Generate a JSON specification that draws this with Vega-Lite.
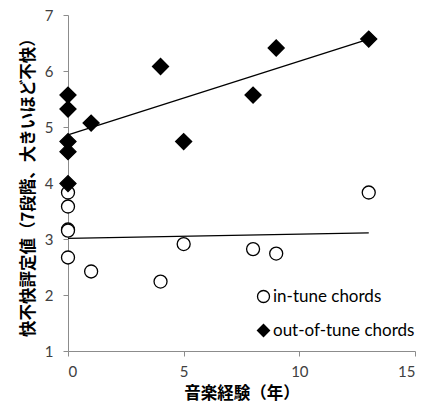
{
  "$schema": "https://vega.github.io/schema/vega-lite/v6.json",
  "autosize": "none",
  "width": 347,
  "height": 336,
  "padding": {"left": 68, "top": 15, "right": 12, "bottom": 63},
  "background": "white",
  "config": {
    "view": {"stroke": null},
    "axis": {
      "grid": false,
      "domainColor": "#8c8c8c",
      "tickColor": "#8c8c8c",
      "tickSize": 5,
      "labelFont": "Lato",
      "labelFontSize": 15,
      "labelColor": "#404040",
      "titleFont": "Noto Sans CJK JP",
      "titleFontWeight": "bold",
      "titleFontSize": 16.5,
      "titleColor": "#000000"
    },
    "legend": {
      "labelFont": "Lato",
      "labelFontSize": 17,
      "labelColor": "#000000",
      "symbolSize": 144,
      "symbolStrokeWidth": 1.3
    }
  },
  "datasets": {
    "points": [
      {"experience": 0, "rating": 3.83, "series": "in-tune chords"},
      {"experience": 0, "rating": 3.58, "series": "in-tune chords"},
      {"experience": 0, "rating": 3.17, "series": "in-tune chords"},
      {"experience": 0, "rating": 3.15, "series": "in-tune chords"},
      {"experience": 0, "rating": 2.67, "series": "in-tune chords"},
      {"experience": 1, "rating": 2.42, "series": "in-tune chords"},
      {"experience": 4, "rating": 2.24, "series": "in-tune chords"},
      {"experience": 5, "rating": 2.91, "series": "in-tune chords"},
      {"experience": 8, "rating": 2.82, "series": "in-tune chords"},
      {"experience": 9, "rating": 2.74, "series": "in-tune chords"},
      {"experience": 13, "rating": 3.83, "series": "in-tune chords"},
      {"experience": 0, "rating": 5.57, "series": "out-of-tune chords"},
      {"experience": 0, "rating": 5.32, "series": "out-of-tune chords"},
      {"experience": 0, "rating": 4.74, "series": "out-of-tune chords"},
      {"experience": 0, "rating": 4.56, "series": "out-of-tune chords"},
      {"experience": 0, "rating": 3.99, "series": "out-of-tune chords"},
      {"experience": 1, "rating": 5.07, "series": "out-of-tune chords"},
      {"experience": 4, "rating": 6.08, "series": "out-of-tune chords"},
      {"experience": 5, "rating": 4.74, "series": "out-of-tune chords"},
      {"experience": 8, "rating": 5.57, "series": "out-of-tune chords"},
      {"experience": 9, "rating": 6.41, "series": "out-of-tune chords"},
      {"experience": 13, "rating": 6.57, "series": "out-of-tune chords"}
    ],
    "trend": [
      {"experience": 0, "rating": 3.01, "series": "in-tune chords"},
      {"experience": 13, "rating": 3.11, "series": "in-tune chords"},
      {"experience": 0, "rating": 4.86, "series": "out-of-tune chords"},
      {"experience": 13, "rating": 6.57, "series": "out-of-tune chords"}
    ]
  },
  "layer": [
    {
      "data": {"name": "trend"},
      "mark": {"type": "line", "color": "black", "strokeWidth": 1.3},
      "encoding": {
        "x": {"field": "experience", "type": "quantitative"},
        "y": {"field": "rating", "type": "quantitative"},
        "detail": {"field": "series"}
      }
    },
    {
      "data": {"name": "points"},
      "mark": {"type": "point", "stroke": "black", "strokeWidth": 1.3, "opacity": 1, "filled": false},
      "encoding": {
        "x": {
          "field": "experience", "type": "quantitative",
          "scale": {"domain": [0, 15], "nice": false, "zero": false},
          "axis": {"values": [0, 5, 10, 15], "format": "d", "title": "音楽経験（年）", "labelPadding": 8, "titlePadding": 6}
        },
        "y": {
          "field": "rating", "type": "quantitative",
          "scale": {"domain": [1, 7], "nice": false, "zero": false},
          "axis": {"values": [1, 2, 3, 4, 5, 6, 7], "format": "d", "title": "快不快評定値（7段階、大きいほど不快）", "labelPadding": 10, "titlePadding": 8}
        },
        "shape": {
          "field": "series", "type": "nominal",
          "scale": {"domain": ["in-tune chords", "out-of-tune chords"], "range": ["circle", "diamond"]},
          "legend": {"title": null, "orient": "none", "legendX": 187, "legendY": 273, "rowPadding": 15, "labelOffset": 1, "padding": 0}
        },
        "fill": {
          "field": "series", "type": "nominal",
          "scale": {"domain": ["in-tune chords", "out-of-tune chords"], "range": ["white", "black"]},
          "legend": {"title": null, "orient": "none", "legendX": 187, "legendY": 273, "rowPadding": 15, "labelOffset": 1, "padding": 0}
        },
        "size": {
          "condition": {"test": "datum.series === 'out-of-tune chords'", "value": 256},
          "value": 169
        }
      }
    }
  ]
}
